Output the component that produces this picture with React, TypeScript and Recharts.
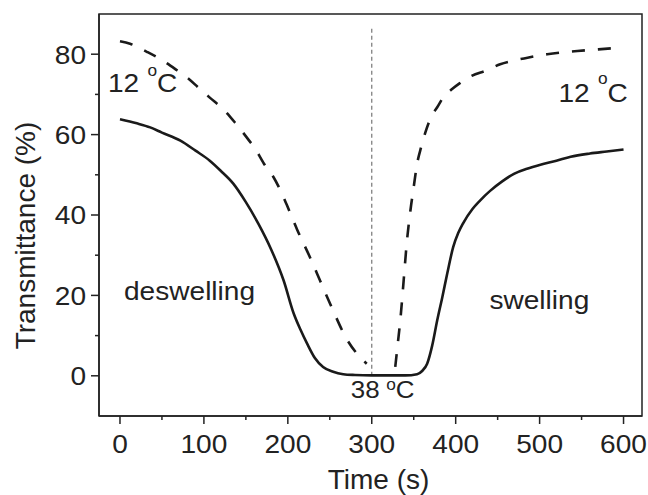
import React from 'react';
import { LineChart, Line, XAxis, YAxis, ReferenceLine, ReferenceArea, ReferenceDot } from 'recharts';

const FONT = '"Liberation Sans", Arial, Helvetica, sans-serif';
const INK = '#222222';
const CURVE = '#1a1a1a';
const SX = 1.08;

// axis ticks
const xTicks = [0, 50, 100, 150, 200, 250, 300, 350, 400, 450, 500, 550, 600];
const xMajor = [0, 100, 200, 300, 400, 500, 600];
const yTicks = [0, 10, 20, 30, 40, 50, 60, 70, 80];
const yMajor = [0, 20, 40, 60, 80];

// solid curve
const solidTime = [0, 20, 36, 50, 72, 90, 107, 120, 135, 150, 165, 180, 195, 207, 215, 223, 232, 242, 254, 266, 280, 300, 340, 354, 360, 366, 372, 378, 384, 390, 397, 403, 409, 420, 429, 441, 455, 470, 485, 501, 520, 537, 560, 580, 600];
const solidValue = [63.8, 62.8, 61.8, 60.5, 58.5, 56, 53.5, 51, 47.8, 43.2, 37.8, 31.5, 23.7, 15.5, 11.5, 8, 4.5, 2.2, 1, 0.4, 0.2, 0.1, 0.1, 0.4, 1.2, 3, 7.5, 13.8, 19.5, 25.5, 32, 35.5, 38, 41.5, 43.6, 46, 48.3, 50.3, 51.5, 52.5, 53.5, 54.5, 55.3, 55.8, 56.3];

// dashed curve, deswelling part
const dashDownTime = [0, 12, 32, 48, 68, 80, 95, 107, 125, 137, 151, 161, 173, 183, 193, 199, 211, 227, 239, 254, 270, 282, 294];
const dashDownValue = [83.2, 82.6, 80.6, 78.8, 76, 74.2, 71.4, 69.2, 65.9, 63, 59.3, 56.5, 52.3, 49.4, 45.3, 42.4, 36.4, 29.2, 23.4, 16.2, 9.2, 5.6, 3];

// dashed curve, swelling part
const dashUpTime = [328, 331, 334, 338, 342, 346, 350, 354, 359, 364, 371, 378, 385, 395, 405, 419, 437, 453, 471, 487, 509, 545, 570, 600];
const dashUpValue = [2.2, 8, 13.8, 23.7, 33.7, 41, 47, 52.7, 57, 60.6, 64.5, 66.8, 69.2, 71.2, 72.8, 74.6, 76, 77.5, 78.5, 79.2, 80, 80.8, 81.2, 81.7];

const zip = (t: number[], v: number[]) => t.map((x, i) => ({ t: x, v: v[i] }));
const solidData = zip(solidTime, solidValue);
const dashDownData = zip(dashDownTime, dashDownValue);
const dashUpData = zip(dashUpTime, dashUpValue);

function SText({ x, y, anchor = 'start', size = 26, children }: any) {
  return (
    <text
      transform={`translate(${x},${y}) scale(${SX},1)`}
      textAnchor={anchor}
      fontSize={size}
      fontFamily={FONT}
      fill={INK}
    >
      {children}
    </text>
  );
}

const XTick = (props: any) => {
  const { x, y, payload } = props;
  const v = payload.value;
  const major = xMajor.includes(v);
  return (
    <g>
      <line x1={x} x2={x} y1={y} y2={y + (major ? 8 : 4)} stroke={INK} strokeWidth={1.5} />
      {major && <SText x={x} y={y + 37} anchor="middle">{String(v)}</SText>}
    </g>
  );
};

const YTick = (props: any) => {
  const { x, y, payload } = props;
  const v = payload.value;
  const major = yMajor.includes(v);
  return (
    <g>
      <line x1={x - (major ? 8 : 4)} x2={x} y1={y} y2={y} stroke={INK} strokeWidth={1.5} />
      {major && <SText x={x - 13} y={y + 9.3} anchor="end">{String(v)}</SText>}
    </g>
  );
};

const degLabel = (main: string, size: number, gap: number, raise: number, supSize = 16) => (p: any) => {
  const vb = p.viewBox || {};
  return (
    <SText x={vb.x} y={vb.y} size={size}>
      <tspan>{main}</tspan>
      <tspan dx={gap} dy={-raise} fontSize={supSize}>o</tspan>
      <tspan dy={raise}>C</tspan>
    </SText>
  );
};

const plainLabel = (txt: string, size: number) => (p: any) => {
  const vb = p.viewBox || {};
  return <SText x={vb.x} y={vb.y} size={size}>{txt}</SText>;
};

const XTitle = (p: any) => {
  const vb = p.viewBox || { x: 99, y: 416, width: 543 };
  return (
    <text x={vb.x + vb.width / 2 + 8} y={vb.y + 73} textAnchor="middle" fontSize={28} fontFamily={FONT} fill={INK}>
      Time (s)
    </text>
  );
};

const YTitle = (p: any) => {
  const vb = p.viewBox || { x: 0, y: 14, height: 402 };
  const cx = vb.x + 35;
  const cy = vb.y + vb.height / 2 + 20.5;
  return (
    <text x={cx} y={cy} transform={`rotate(-90, ${cx}, ${cy})`} textAnchor="middle" fontSize={28} fontFamily={FONT} fill={INK}>
      Transmittance (%)
    </text>
  );
};

export default function App() {
  return (
    <div style={{ position: 'fixed', left: 0, top: 0, width: 648, height: 495, background: '#fff' }}>
      <LineChart width={648} height={495} margin={{ top: 14, right: 6, bottom: 0, left: 0 }}>
        <XAxis
          type="number"
          dataKey="t"
          domain={[-25, 622]}
          ticks={xTicks}
          interval={0}
          tick={XTick}
          tickLine={false}
          tickSize={0}
          tickMargin={0}
          height={79}
          axisLine={{ stroke: INK, strokeWidth: 1.5 }}
          allowDataOverflow
          label={{ content: XTitle }}
        />
        <YAxis
          type="number"
          dataKey="v"
          domain={[-10, 90]}
          ticks={yTicks}
          interval={0}
          tick={YTick}
          tickLine={false}
          tickSize={0}
          tickMargin={0}
          width={99}
          axisLine={{ stroke: INK, strokeWidth: 1.5 }}
          allowDataOverflow
          label={{ content: YTitle }}
        />
        <ReferenceArea x1={-25} x2={622} y1={-10} y2={90} fill="none" stroke={INK} strokeWidth={1.5} ifOverflow="visible" />
        <ReferenceLine
          segment={[{ x: 300, y: 0 }, { x: 300, y: 86.5 }]}
          stroke="#777777"
          strokeWidth={1.2}
          strokeDasharray="4 3"
        />
        <Line data={solidData} dataKey="v" type="monotone" stroke={CURVE} strokeWidth={2.6} dot={false} isAnimationActive={false} />
        <Line data={dashDownData} dataKey="v" type="monotone" stroke={CURVE} strokeWidth={2.6} strokeDasharray="13 13" dot={false} isAnimationActive={false} />
        <Line data={dashUpData} dataKey="v" type="monotone" stroke={CURVE} strokeWidth={2.6} strokeDasharray="13 13" dot={false} isAnimationActive={false} />
        <ReferenceDot x={-14.3} y={70.5} r={0} stroke="none" fill="none" label={{ content: degLabel('12', 26, 7.6, 16.7) }} />
        <ReferenceDot x={522.5} y={68} r={0} stroke="none" fill="none" label={{ content: degLabel('12', 26, 7.6, 18) }} />
        <ReferenceDot x={275.1} y={-5.6} r={0} stroke="none" fill="none" label={{ content: degLabel('38', 24, 6, 8) }} />
        <ReferenceDot x={4.8} y={18.8} r={0} stroke="none" fill="none" label={{ content: plainLabel('deswelling', 26) }} />
        <ReferenceDot x={440.2} y={16.7} r={0} stroke="none" fill="none" label={{ content: plainLabel('swelling', 26) }} />
      </LineChart>
    </div>
  );
}
